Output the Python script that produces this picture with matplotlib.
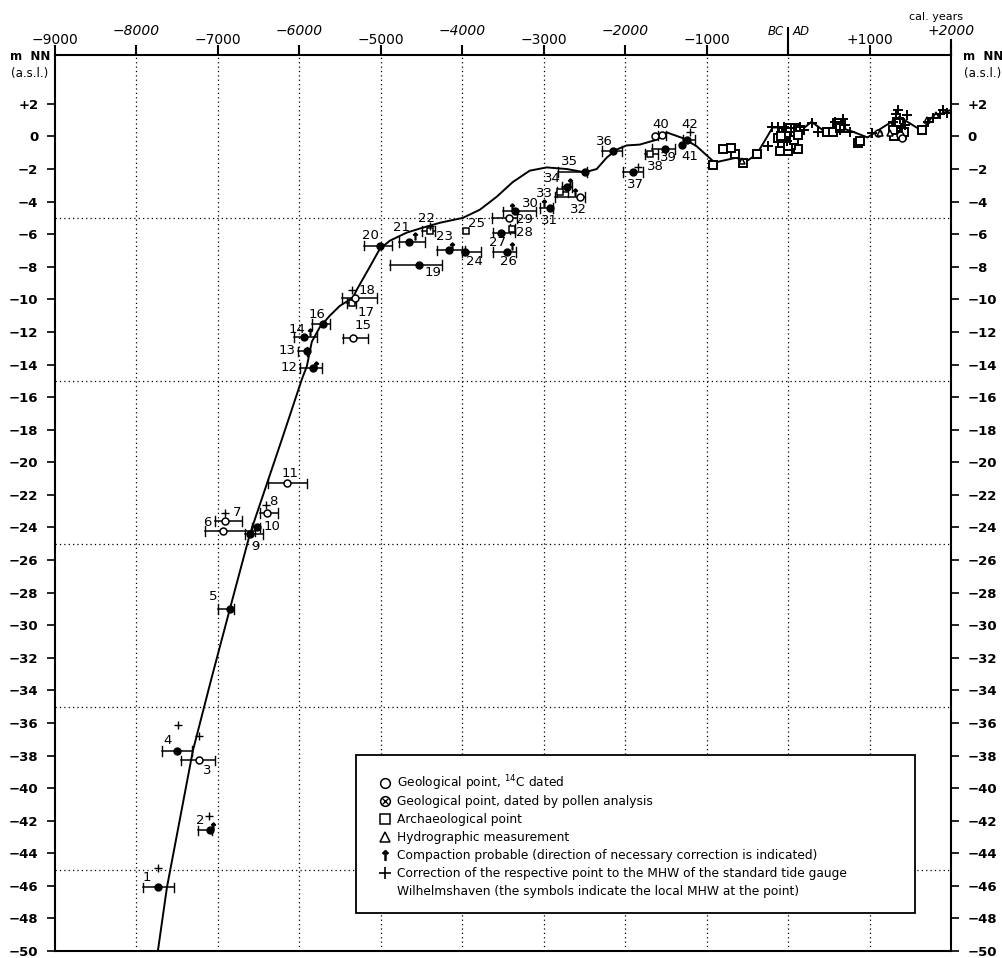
import matplotlib
matplotlib.use("Agg")
import matplotlib.pyplot as plt
from matplotlib.lines import Line2D
from matplotlib.patches import Rectangle

# sea level curve (cal. years, m NN)
curve_x = [-7737, -7626, -7307, -7086, -6853, -6607, -6215, -5969, -5908, -5847, -5748, -5626,
           -5503, -5343, -5294, -5135,
           -5012, -4889, -4681, -4485, -4276, -3994, -3785, -3577, -3380, -3172, -2963, -2717,
           -2497, -2350, -2227, -2104, -1982, -1822, -1613, -1491, -1294, -1123, -902, -632,
           -534, -386, -190, -104, -18, 141, 288, 423, 632, 791, 975, 1160, 1368, 1577, 1650,
           1760, 1982]
curve_y = [-50, -46.1, -37.7, -33.4, -29.0, -24.4, -18.6, -14.9, -14.1, -12.6, -11.7, -11.0,
           -10.4, -9.9, -9.4, -8.0,
           -6.9, -6.4, -5.9, -5.6, -5.3, -5.0, -4.5, -3.7, -2.8, -2.1, -1.9, -2.0,
           -2.2, -2.0, -1.3, -0.8, -0.55, -0.5, -0.2, 0.25, -0.1, -0.6, -1.6, -1.3,
           -1.6, -1.1, 0.55, 0.55, -0.06, 0.3, 0.9, 0.4, 0.55, 0.3, -0.06, 0.55, 1.2, 0.55, 0.4,
           1.15, 1.6]

# numbered points
pt_id = list(range(1, 43))
pt_x = [-7736, -7098, -7233, -7503, -6853, -6939, -6914, -6399, -6607, -6522, -6153,
        -5834, -5908, -5945, -5343, -5712, -5355, -5319, -4533, -5012, -4656, -4399,
        -4165, -3969, -3957, -3454, -3528, -3393, -3429, -3356, -2926, -2558, -2803,
        -2717, -2497, -2153, -1908, -1699, -1515, -1552, -1306, -1245]
pt_y = [-46.1, -42.6, -38.3, -37.7, -29.0, -24.2, -23.6, -23.1, -24.4, -24.0, -21.3,
        -14.2, -13.2, -12.3, -12.4, -11.5, -10.2, -9.9, -7.9, -6.7, -6.5, -5.8,
        -7.0, -7.1, -5.8, -7.1, -5.9, -5.7, -5.0, -4.6, -4.4, -3.7, -3.4,
        -3.1, -2.2, -0.9, -2.2, -1.1, -0.75, 0.06, -0.55, -0.2]
pt_lo = [-7920, -7245, -7454, -7687, -7000, -7159, -7037, -6485, -6670, -6580, -6387,
         -5990, -6020, -6067, -5466, -5845, -5420, -5478, -4889, -5209, -4779, -4500,
         -4313, -4000, -3957, -3626, -3626, -3420, -3638, -3503, -3049, -2865, -2840,
         -2780, -2828, -2288, -2030, -1760, -1675, -1600, -1306, -1294]
pt_hi = [-7540, -7070, -7037, -7319, -6800, -6546, -6705, -6264, -6450, -6480, -5908,
         -5720, -5908, -5785, -5159, -5625, -5300, -5049, -4252, -4865, -4460, -4340,
         -3969, -3773, -3957, -3343, -3355, -3350, -3330, -3098, -2890, -2497, -2700,
         -2650, -2472, -2043, -1785, -1600, -1392, -1500, -1306, -1147]
pt_kind = ['p', 'p', 'o', 'p', 'p', 'o', 'o', 'o', 'p', 'p', 'o',
           'p', 'p', 'p', 'o', 'p', 's', 'o', 'p', 'p', 'p', 's',
           'p', 'p', 's', 'p', 'p', 's', 'o', 'p', 'p', 'o', 's',
           'p', 'p', 'p', 'p', 's', 'p', 'o', 'p', 'p']
lab_off = [(-8, 7), (-7, 7), (6, -7), (-7, 7), (-12, 9), (-11, 6), (9, 6), (5, 8), (4, -9),
           (11, 1), (2, 7), (-17, 0), (-14, 1), (-5, 5), (7, 9), (-4, 7), (10, -7), (9, 5),
           (10, -5), (-7, 7), (-5, 11), (-2, 9), (-3, 10), (7, -7), (8, 5), (1, -7), (-2, -7),
           (9, -2), (11, -1), (11, 6), (0, -9), (-1, -9), (-11, -1), (-10, 6), (-11, 8),
           (-6, 7), (2, -9), (4, -9), (3, -6), (-1, 8), (6, -8), (2, 11)]

# correction crosses and compaction arrows
plus_x = [-7736, -7110, -7491, -7233, -6914, -6411, -5355, -1846, -1209, -4400]
plus_y = [-44.9, -41.7, -36.1, -36.8, -23.1, -22.6, -9.4, -1.9, 0.25, -5.5]
arr_x = [-7061, -4129, -3393, -3000, -2620, -2681, -4583, -5871, -3393, -5800]
arr_y = [-42.3, -6.7, -6.75, -4.1, -3.4, -2.8, -6.1, -12.0, -4.35, -14.0]

# unnumbered points after 1000 BC
ad_sq_x = [-926, -804, -656, -558, -386, -104, -6, 117, -50, 40, -80, -20, 30, 80, 60, 100,
           -60, 472, 546, 853, 880, 1638, 1300, 1400, -700, -120, 0, 70, 150, -30, 20,
           -90, 120, 600, 640, 1330, 1360, 1420, 1290]
ad_sq_y = [-1.75, -0.8, -1.1, -1.6, -1.1, -0.9, -0.9, -0.8, -0.3, 0.0, -0.4, 0.1, -0.5, 0.2,
           -0.2, 0.5, 0.3, 0.3, 0.3, -0.4, -0.3, 0.4, 0.0, 0.1, -0.7, -0.1, -0.6, -0.2,
           0.4, 0.2, 0.5, 0.0, 0.1, 0.8, 0.5, 0.6, 0.9, 0.3, 0.4]
ad_pl_x = [-202, -128, 141, 288, 362, 669, 632, 755, 1025, 1282, 1330, 1380, 1430, 1454,
           1773, 1859, 1957, -250, -50, 200, 1720, 1900, 580, 700, 1350, 1400, 30, -10]
ad_pl_y = [0.55, 0.55, 0.55, 0.85, 0.3, 1.05, 0.4, 0.3, 0.2, 0.9, 1.4, 1.1, 0.7, 1.3,
           1.15, 1.35, 1.45, -0.6, 0.6, 0.4, 0.9, 1.6, 0.9, 0.7, 1.6, 0.5, 0.5, -0.3]
ad_tri_x = [1123, 1250, -560, 1700, 1820]
ad_tri_y = [0.2, 0.2, -1.5, 1.0, 1.3]
ad_op_x = [1368, 1400, -1638, 1100]
ad_op_y = [0.1, -0.1, 0.0, 0.2]

x_ticks = list(range(-9000, 2001, 1000))
x_tick_labels = ['−9000', '−8000', '−7000', '−6000', '−5000', '−4000', '−3000',
                 '−2000', '−1000', '', '+1000', '+2000']
y_ticks = list(range(-50, 3, 2))
y_tick_labels = [('+%d' % v if v > 0 else ('0' if v == 0 else '−%d' % -v)) for v in y_ticks]

legend_texts = ['Geological point, $^{14}$C dated',
                'Geological point, dated by pollen analysis',
                'Archaeological point',
                'Hydrographic measurement',
                'Compaction probable (direction of necessary correction is indicated)',
                'Correction of the respective point to the MHW of the standard tide gauge',
                'Wilhelmshaven (the symbols indicate the local MHW at the point)']

plt.rcParams['font.family'] = 'DejaVu Sans'
fig = plt.figure(figsize=(10.03, 9.58), dpi=100)
ax = fig.add_axes([55 / 1003, 1 - 951 / 958, 896 / 1003, 896 / 958])
ax.set_xlim(-9000, 2000)
ax.set_ylim(-50, 5)

dot = (0, (1, 2.5))
for gx in range(-8000, 2000, 1000):
    ax.axvline(gx, color='black', lw=0.9, ls=dot, zorder=1)
for gy in [-5, -15, -25, -35, -45]:
    ax.axhline(gy, color='black', lw=0.9, ls=dot, zorder=1)

ax.plot(curve_x, curve_y, color='black', lw=1.4, zorder=3)

for i in range(len(pt_id)):
    if pt_hi[i] > pt_lo[i]:
        ax.plot([pt_lo[i], pt_hi[i]], [pt_y[i], pt_y[i]], color='black', lw=1.1, zorder=4)
        for e in (pt_lo[i], pt_hi[i]):
            ax.plot([e, e], [pt_y[i] - 0.3, pt_y[i] + 0.3], color='black', lw=1.0, zorder=4)
    k = pt_kind[i]
    if k == 'o':
        ax.plot(pt_x[i], pt_y[i], 'o', ms=5, mfc='white', mec='black', mew=1.1, zorder=5)
    elif k == 'p':
        ax.plot(pt_x[i], pt_y[i], 'o', ms=5, mfc='black', mec='black', zorder=5)
    else:
        ax.plot(pt_x[i], pt_y[i], 's', ms=5, mfc='white', mec='black', mew=1.1, zorder=5)
    ax.annotate(str(pt_id[i]), (pt_x[i], pt_y[i]), xytext=lab_off[i],
                textcoords='offset points', ha='center', va='center', fontsize=9.5)

ax.plot(plus_x, plus_y, '+', color='black', ms=6, mew=1.0, ls='none', zorder=5)
ax.plot(arr_x, arr_y, marker='$\\uparrow$', color='black', ms=5, ls='none', zorder=5)
ax.plot(ad_sq_x, ad_sq_y, 's', ms=6, mfc='white', mec='black', mew=1.4, ls='none', zorder=5)
ax.plot(ad_op_x, ad_op_y, 'o', ms=5, mfc='white', mec='black', mew=1.1, ls='none', zorder=5)
ax.plot(ad_tri_x, ad_tri_y, '^', ms=5, mfc='white', mec='black', mew=1.1, ls='none', zorder=5)
ax.plot(ad_pl_x, ad_pl_y, '+', color='black', ms=7, mew=1.4, ls='none', zorder=6)

# axes styling
for s in ax.spines.values():
    s.set_linewidth(1.5)
ax.xaxis.tick_top()
ax.set_xticks(x_ticks)
ax.set_xticklabels([])
ax.tick_params(axis='x', top=True, bottom=False, direction='out', length=7, width=1.5)
ax.set_yticks(y_ticks)
ax.set_yticklabels(y_tick_labels)
ax.tick_params(axis='y', left=True, right=True, labelleft=True, labelright=True,
               direction='out', length=6, width=1.2, labelsize=9.5, pad=6)
for lbl in ax.get_yticklabels(which='both'):
    lbl.set_fontweight('bold')

for i, (tx, tl) in enumerate(zip(x_ticks, x_tick_labels)):
    dy = 17 if i % 2 == 1 else 11
    ax.annotate(tl, (tx, 1), xycoords=('data', 'axes fraction'), xytext=(0, dy),
                textcoords='offset points', ha='center', va='center', fontsize=10,
                fontstyle='italic' if i % 2 == 1 else 'normal')
ax.annotate('BC', (0, 1), xycoords=('data', 'axes fraction'), xytext=(-3, 17),
            textcoords='offset points', ha='right', va='center', fontsize=8.5, fontstyle='italic')
ax.annotate('AD', (0, 1), xycoords=('data', 'axes fraction'), xytext=(3, 17),
            textcoords='offset points', ha='left', va='center', fontsize=8.5, fontstyle='italic')
fig.add_artist(Line2D([788 / 1003, 788 / 1003], [1 - 28 / 958, 1 - 55 / 958], color='black', lw=1.5))
fig.add_artist(Line2D([951 / 1003, 951 / 1003], [1 - 40 / 958, 1 - 55 / 958], color='black', lw=1.5))
fig.text(936 / 1003, 1 - 17 / 958, 'cal. years', ha='center', va='center', fontsize=8)

for xx in (30, 983):
    fig.text(xx / 1003, 1 - 57 / 958, 'm  NN', ha='center', va='center', fontsize=8.5, fontweight='bold')
    fig.text(xx / 1003, 1 - 74 / 958, '(a.s.l.)', ha='center', va='center', fontsize=8.5)

# legend box
fig.add_artist(Rectangle((356 / 1003, 1 - 913 / 958), 559 / 1003, 158 / 958,
                         transform=fig.transFigure, facecolor='white', edgecolor='black',
                         lw=1.3, zorder=10))
rows = [783, 801, 819, 837, 855, 873, 891]
mx = 385 / 1003
for j, (ry, txt) in enumerate(zip(rows, legend_texts)):
    yy = 1 - ry / 958
    fig.text(397 / 1003, yy, txt, ha='left', va='center', fontsize=8.8, zorder=11)
for j, spec in enumerate([('o', 'white'), ('o', 'white'), ('s', 'white'), ('^', 'white')]):
    yy = 1 - rows[j] / 958
    fig.add_artist(Line2D([mx], [yy], marker=spec[0], ms=7, mfc=spec[1], mec='black',
                          mew=1.1, ls='none', zorder=11))
fig.add_artist(Line2D([mx], [1 - rows[1] / 958], marker='x', ms=4, mec='black', mew=1.0,
                      ls='none', zorder=12))
fig.add_artist(Line2D([mx], [1 - rows[4] / 958], marker='$\\uparrow$', ms=7, color='black',
                      ls='none', zorder=11))
fig.add_artist(Line2D([mx], [1 - rows[5] / 958], marker='+', ms=9, mew=1.2, color='black',
                      ls='none', zorder=11))

fig.savefig('out.png', dpi=100)
